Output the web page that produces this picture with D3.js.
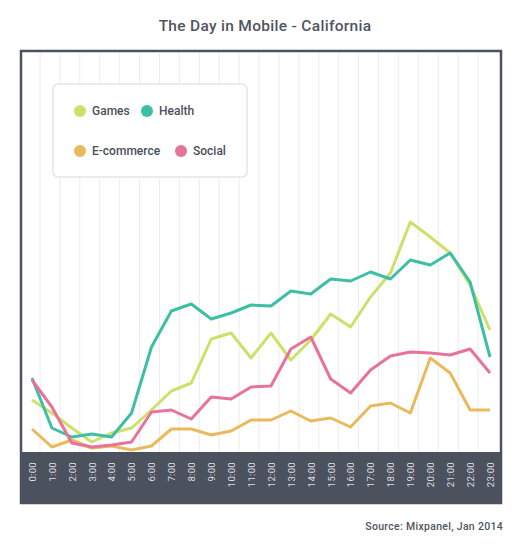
<!DOCTYPE html>
<html>
<head>
<meta charset="utf-8">
<script src="https://cdn.jsdelivr.net/npm/d3@7"></script>
<style>
body{margin:0;background:#fff;}
svg{display:block;font-family:Roboto,"DejaVu Sans",sans-serif;}
</style>
</head>
<body>
<svg id="chart" width="524" height="554"></svg>
<script>
var hours = ["0:00","1:00","2:00","3:00","4:00","5:00","6:00","7:00","8:00","9:00","10:00","11:00",
	"12:00","13:00","14:00","15:00","16:00","17:00","18:00","19:00","20:00","21:00","22:00","23:00"];

var games = [13,9.75,6,2.5,4.75,6,10.5,15.25,17.25,28.25,29.75,23.5,29.75,23,28,34.5,31.25,38.75,44.75,57.5,53.75,49.75,41.75,30.5];
var health = [18.5,6,3.75,4.5,3.75,9.75,26.25,35.25,37,33.25,34.75,36.75,36.5,40.25,39.5,43.25,42.75,45,43.25,48,46.75,49.75,42.5,23.75];
var ecommerce = [5.75,1.25,3,1,1.5,0.5,1.5,5.75,5.75,4.25,5.25,8,8,10.25,7.75,8.5,6.25,11.5,12.25,9.75,23.5,19.75,10.5,10.5];
var social = [18,11.25,2.25,1.25,1.75,2.5,10,10.5,8.25,13.75,13.25,16.25,16.5,25.75,28.75,18.25,14.75,20.5,24,25,24.75,24.25,25.75,19.75];

var seriesNames = ["Games","Health","E-commerce","Social"];
var seriesColors = ["#cfe06a","#3dbfa5","#e9ba5c","#e8739a"];

window.addEventListener("load", makeChart);

function makeChart(){
	var svg = d3.select("#chart");
	var dark = "#4c525d";
	var series = [
		{name:"Games",vals:games},
		{name:"Health",vals:health},
		{name:"E-commerce",vals:ecommerce},
		{name:"Social",vals:social}
	];
	var scC = d3.scaleOrdinal().domain(seriesNames).range(seriesColors);

	var x = d3.scalePoint().domain(hours).range([32,490]);
	var y = d3.scaleLinear().domain([0,100]).range([452,52]);

	// title
	svg.append("text").attr("x",265).attr("y",31)
		.attr("text-anchor","middle").attr("font-size",15.5).attr("font-weight",500)
		.attr("fill","#50555f").attr("letter-spacing",0.3)
		.text("The Day in Mobile - California");

	// frame
	svg.append("rect").attr("x",21).attr("y",51).attr("width",480).attr("height",452)
		.attr("fill","#fff").attr("stroke",dark).attr("stroke-width",2.5);

	// background grid
	svg.append("g").selectAll("line").data(hours.slice(0,-1)).enter()
		.append("line")
		.attr("x1",d=>x(d)+8).attr("x2",d=>x(d)+8)
		.attr("y1",53).attr("y2",452)
		.attr("stroke","#ececee").attr("stroke-width",1);

	// bottom band with hour labels
	svg.append("rect").attr("x",20).attr("y",452).attr("width",482).attr("height",52)
		.attr("fill",dark);
	var xAxis = d3.axisBottom(x).tickSize(0).tickPadding(0);
	var ax = svg.append("g").attr("transform","translate(0,462)").call(xAxis);
	ax.select(".domain").remove();
	ax.selectAll("text")
		.attr("transform","rotate(-90)")
		.attr("x",0).attr("y",0).attr("dy","0.35em")
		.attr("text-anchor","end")
		.attr("font-family","Roboto, sans-serif")
		.attr("font-size",9.5).attr("fill","#dcdfe4").attr("letter-spacing",0.3);

	// lines
	var lnMkr = d3.line().x((d,i)=>x(hours[i])).y(d=>y(d));
	svg.append("g").selectAll("path").data(series).enter()
		.append("path").attr("d",d=>lnMkr(d.vals))
		.attr("fill","none").attr("stroke",d=>scC(d.name))
		.attr("stroke-width",3).attr("stroke-linejoin","round");

	// legend
	var lg = svg.append("g");
	lg.append("rect").attr("x",53).attr("y",84).attr("width",194).attr("height",93).attr("rx",5)
		.attr("fill","#fff").attr("stroke","#e4e5e8").attr("stroke-width",1.5);
	var pos = [[80,111],[147,111],[80,151],[181,151]];
	var items = lg.selectAll("g.it").data(seriesNames).enter()
		.append("g").attr("class","it")
		.attr("transform",(d,i)=>"translate("+pos[i][0]+","+pos[i][1]+")");
	items.append("circle").attr("r",6).attr("fill",d=>scC(d));
	items.append("text").attr("x",12).attr("dy","0.35em")
		.attr("font-size",12).attr("font-weight",500).attr("fill","#4b505a")
		.text(d=>d);

	// source
	svg.append("text").attr("x",503).attr("y",530).attr("text-anchor","end")
		.attr("font-size",10.5).attr("font-weight",500).attr("fill","#50555f")
		.attr("letter-spacing",0.3)
		.text("Source: Mixpanel, Jan 2014");
}
</script>
</body>
</html>
